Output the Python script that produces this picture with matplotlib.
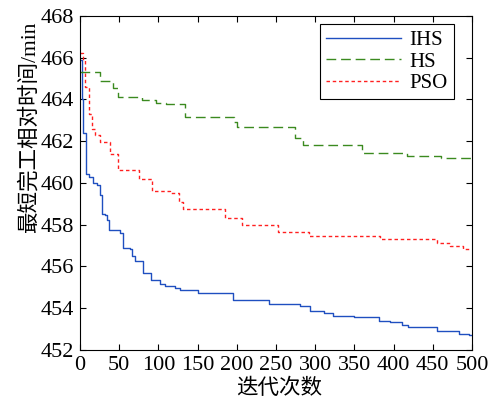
import matplotlib
matplotlib.use("Agg")
import matplotlib.pyplot as plt

# iteration where each step starts, and the best value from there on
ihs_iter = [0, 2, 4, 8, 11, 17, 22, 25, 28, 32, 34, 37, 51, 55, 64, 66, 70, 81, 90, 102, 109,
            121, 128, 151, 195, 241, 272, 281, 294, 311, 323, 349, 376, 381, 396, 411, 419,
            455, 483, 496, 500]
ihs_val = [465.9, 464.0, 462.4, 460.4, 460.3, 460.0, 459.9, 459.4, 458.5, 458.45, 458.2, 457.75,
           457.6, 456.9, 456.85, 456.5, 456.25, 455.7, 455.36, 455.17, 455.04,
           454.98, 454.85, 454.72, 454.4, 454.21, 454.18, 454.1, 453.88, 453.79, 453.64,
           453.6, 453.57, 453.4, 453.33, 453.18, 453.12, 452.93, 452.78, 452.7, 452.7]

hs_iter = [0, 26, 42, 49, 79, 97, 110, 134, 196, 200, 274, 285, 360, 417, 460, 500]
hs_val = [465.3, 464.87, 464.55, 464.13, 463.97, 463.81, 463.76, 463.16, 462.92, 462.68,
          462.17, 461.83, 461.45, 461.29, 461.19, 461.19]

pso_iter = [0, 4, 7, 11, 15, 19, 26, 38, 49, 75, 92, 115, 126, 132, 185, 207, 253, 292,
            383, 455, 472, 489, 500]
pso_val = [466.2, 465.9, 464.6, 463.3, 462.6, 462.28, 461.96, 461.4, 460.63, 460.17, 459.62,
           459.51, 459.08, 458.76, 458.31, 457.96, 457.64, 457.48, 457.32, 457.13, 456.97,
           456.84, 456.84]

xticks = [0, 50, 100, 150, 200, 250, 300, 350, 400, 450, 500]
yticks = [452, 454, 456, 458, 460, 462, 464, 466, 468]

plt.rcParams['font.family'] = ['Liberation Serif', 'Noto Sans CJK SC']

fig = plt.figure(figsize=(4.92, 4.01), dpi=100)
ax = fig.add_axes([0.1626, 0.1272, 0.7967, 0.8336])

ax.plot(ihs_iter, ihs_val, drawstyle='steps-post', color='#1f4fc0', lw=1.0, label='IHS')
ax.plot(hs_iter, hs_val, drawstyle='steps-post', color='#3b8a1f', lw=1.0,
        dashes=(7, 3.5), label='HS')
ax.plot(pso_iter, pso_val, drawstyle='steps-post', color='#ff2020', lw=1.0,
        dashes=(2.5, 2), label='PSO')

ax.set_xlim(0, 500)
ax.set_ylim(452, 468)
ax.set_xticks(xticks)
ax.set_yticks(yticks)
ax.tick_params(direction='in', top=True, right=True, labelsize=16, length=4, pad=4)
ax.set_xlabel('迭代次数', fontsize=15.5)
ax.set_ylabel('最短完工相对时间/min', fontsize=15.5)
ax.xaxis.set_label_coords(0.509, -0.117)
ax.yaxis.set_label_coords(-0.13, 0.667)
ax.xaxis.label.set_va('center')
ax.yaxis.label.set_va('center')

leg = ax.legend(loc='upper right', bbox_to_anchor=(0.954, 0.975), borderaxespad=0,
                fontsize=15, fancybox=False, framealpha=1, edgecolor='black',
                handlelength=3.6, labelspacing=0.1, handletextpad=0.4, borderpad=0.3)
leg.get_frame().set_linewidth(0.8)

fig.savefig('out.png', dpi=100)
